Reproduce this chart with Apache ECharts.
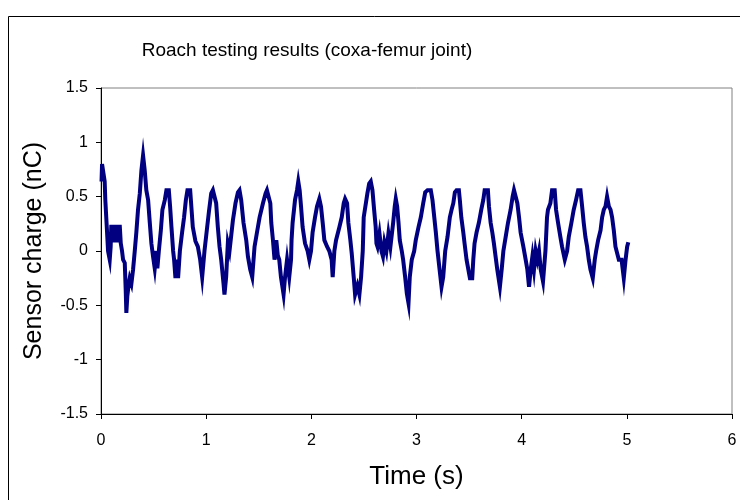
<!DOCTYPE html>
<html>
<head>
<meta charset="utf-8">
<script src="https://cdn.jsdelivr.net/npm/echarts@6/dist/echarts.min.js"></script>
<style>
html,body{margin:0;padding:0;background:#fff;}
#chart{width:740px;height:500px;}
</style>
</head>
<body>
<div id="chart"></div>
<script>
// Time (s) / sensor charge (nC) samples, per stretch of the trace
const segA = [[0.005,0.64],[0.010,0.80],[0.029,0.80],[0.035,0.64],[0.041,0.47],[0.050,0.31],[0.060,0.13],[0.067,0.0],[0.083,-0.08],[0.092,0.04],[0.098,0.24],[0.105,0.16],[0.114,0.24],[0.120,0.08],[0.130,0.24],[0.138,0.10],[0.146,0.24],[0.154,0.08],[0.162,0.24],[0.170,0.16],[0.178,0.24],[0.188,0.07],[0.200,0.0],[0.210,-0.08],[0.226,-0.11],[0.235,-0.36],[0.241,-0.57],[0.250,-0.42],[0.264,-0.30],[0.273,-0.25],[0.289,-0.30],[0.305,-0.17],[0.321,0.0],[0.336,0.17],[0.352,0.38],[0.369,0.53],[0.384,0.74],[0.400,0.88],[0.416,0.74],[0.431,0.56],[0.448,0.47],[0.464,0.26],[0.479,0.07],[0.495,-0.05],[0.511,-0.16],[0.527,0.0],[0.536,-0.16],[0.550,0.0],[0.569,0.19],[0.584,0.38],[0.607,0.47],[0.622,0.56],[0.645,0.56],[0.657,0.41],[0.670,0.22],[0.686,0.0],[0.695,-0.08],[0.708,-0.25],[0.724,-0.08],[0.733,-0.25],[0.750,0.0],[0.771,0.17],[0.790,0.31],[0.807,0.47],[0.822,0.56]];
const segB = [[0.848,0.56],[0.873,0.22],[0.898,0.09],[0.921,0.04],[0.943,-0.08],[0.962,-0.24],[0.984,0.0],[1.006,0.19],[1.026,0.36],[1.048,0.53],[1.064,0.56],[1.079,0.56],[1.095,0.44],[1.111,0.22],[1.127,0.04],[1.143,-0.08],[1.165,-0.30],[1.174,-0.40],[1.190,-0.24],[1.206,0.07],[1.222,0.0],[1.254,0.28],[1.279,0.44],[1.302,0.54],[1.317,0.56],[1.333,0.47],[1.355,0.26],[1.381,0.10],[1.397,-0.05],[1.419,-0.17],[1.438,-0.24],[1.460,0.04],[1.483,0.17],[1.508,0.31],[1.540,0.44],[1.565,0.53],[1.578,0.56],[1.597,0.56],[1.610,0.44],[1.619,0.26],[1.635,0.10],[1.650,-0.08]];
const segC = [[1.667,0.10],[1.681,-0.04],[1.695,-0.08],[1.711,-0.24],[1.736,-0.40],[1.750,-0.24],[1.769,-0.08],[1.790,-0.24],[1.807,-0.08],[1.812,0.10],[1.822,0.26],[1.845,0.47],[1.864,0.56],[1.876,0.64],[1.889,0.56],[1.902,0.41],[1.917,0.22],[1.940,0.07],[1.965,0.0],[1.981,-0.08],[1.997,0.0],[2.012,0.17],[2.035,0.31],[2.054,0.41],[2.076,0.48],[2.092,0.41],[2.108,0.26],[2.124,0.10],[2.150,0.04],[2.171,0.0],[2.193,-0.08],[2.203,-0.24],[2.219,0.0],[2.235,0.10],[2.267,0.22],[2.289,0.31],[2.308,0.44],[2.321,0.48],[2.340,0.44],[2.352,0.26],[2.371,0.10],[2.384,-0.02],[2.403,-0.24],[2.416,-0.40],[2.438,-0.32],[2.457,-0.40],[2.473,-0.24],[2.489,0.0]];
const segD = [[2.498,0.31],[2.511,0.31],[2.533,0.53],[2.550,0.62],[2.565,0.64],[2.581,0.56],[2.597,0.38],[2.612,0.22],[2.619,0.07],[2.629,0.04],[2.648,0.16],[2.667,0.0],[2.681,-0.05],[2.695,0.08],[2.714,0.0],[2.733,0.16],[2.752,0.04],[2.778,0.26],[2.793,0.41],[2.803,0.48],[2.816,0.41],[2.829,0.26],[2.841,0.10],[2.860,0.0],[2.873,-0.08],[2.892,-0.24],[2.908,-0.39],[2.924,-0.48],[2.936,-0.24],[2.955,-0.08],[2.978,0.0],[2.993,0.10],[3.019,0.22],[3.041,0.31],[3.064,0.44],[3.083,0.54],[3.105,0.56],[3.136,0.56],[3.152,0.47],[3.169,0.31],[3.184,0.17],[3.200,0.0],[3.216,-0.14],[3.238,-0.33],[3.254,-0.24],[3.273,0.0],[3.295,0.13],[3.317,0.31],[3.336,0.39]];
const segE = [[3.350,0.44],[3.365,0.54],[3.381,0.56],[3.403,0.56],[3.412,0.47],[3.426,0.31],[3.445,0.17],[3.457,0.07],[3.476,-0.08],[3.489,-0.08],[3.508,-0.25],[3.530,-0.25],[3.540,-0.08],[3.552,0.07],[3.571,0.17],[3.593,0.26],[3.616,0.38],[3.635,0.47],[3.648,0.56],[3.679,0.56],[3.689,0.41],[3.705,0.26],[3.721,0.17],[3.736,0.07],[3.752,-0.05],[3.768,-0.17],[3.793,-0.33],[3.810,-0.17],[3.826,0.0],[3.848,0.13],[3.870,0.26],[3.895,0.38],[3.914,0.50],[3.927,0.56],[3.946,0.56],[3.959,0.44],[3.975,0.31],[3.990,0.17],[4.016,0.04],[4.038,-0.08],[4.054,-0.17],[4.070,-0.33],[4.086,-0.17],[4.102,-0.05],[4.117,-0.17],[4.133,0.0],[4.149,-0.08],[4.165,0.0],[4.181,-0.17],[4.203,-0.28],[4.226,0.0]];
const segF = [[4.241,0.31],[4.250,0.38],[4.273,0.44],[4.289,0.56],[4.314,0.56],[4.327,0.38],[4.346,0.26],[4.368,0.13],[4.384,0.04],[4.410,-0.08],[4.432,0.0],[4.448,0.13],[4.473,0.26],[4.495,0.38],[4.517,0.47],[4.537,0.56],[4.559,0.56],[4.575,0.41],[4.590,0.26],[4.606,0.13],[4.622,0.04],[4.638,-0.08],[4.654,-0.17],[4.676,-0.25],[4.695,-0.08],[4.708,0.0],[4.727,0.10],[4.750,0.19],[4.765,0.31],[4.781,0.38],[4.797,0.41],[4.812,0.50],[4.829,0.41],[4.845,0.38],[4.860,0.31],[4.876,0.19],[4.892,0.04],[4.924,-0.08],[4.950,-0.08],[4.971,-0.25],[4.988,-0.08],[5.003,0.04],[5.014,0.08]];

const xTicks = [0, 1, 2, 3, 4, 5, 6];
const yTicks = [-1.5, -1, -0.5, 0, 0.5, 1, 1.5];
const titleText = 'Roach testing results (coxa-femur joint)';
const xName = 'Time (s)';
const yName = 'Sensor charge (nC)';

const trace = segA.concat(segB, segC, segD, segE, segF);
const FONT = "'Liberation Sans', Arial, sans-serif";

const chart = echarts.init(document.getElementById('chart'), null, {renderer: 'canvas'});
chart.setOption({
  animation: false,
  backgroundColor: '#ffffff',
  title: {
    text: titleText,
    left: 302, top: 36, textAlign: 'center',
    textStyle: {fontFamily: FONT, fontSize: 19, fontWeight: 'normal', color: '#000'}
  },
  graphic: [{
    type: 'rect', silent: true,
    shape: {x: 8.5, y: 16.5, width: 800, height: 600},
    style: {fill: 'none', stroke: '#000', lineWidth: 1}
  }],
  grid: {
    left: 101, top: 88, width: 631, height: 326,
    show: true, borderColor: '#808080', borderWidth: 1, backgroundColor: 'transparent'
  },
  xAxis: {
    type: 'value', min: xTicks[0], max: xTicks[xTicks.length - 1], interval: 1,
    name: xName, nameLocation: 'middle', nameGap: 50,
    nameTextStyle: {fontFamily: FONT, fontSize: 26, color: '#000'},
    axisLine: {show: true, onZero: false, lineStyle: {color: '#000', width: 1}},
    axisTick: {show: true, inside: false, length: 5, lineStyle: {color: '#000'}},
    axisLabel: {fontFamily: FONT, fontSize: 16, color: '#000', margin: 19},
    splitLine: {show: false}
  },
  yAxis: {
    type: 'value', min: yTicks[0], max: yTicks[yTicks.length - 1], interval: 0.5,
    name: yName, nameLocation: 'middle', nameGap: 54, nameRotate: 90,
    nameTextStyle: {fontFamily: FONT, fontSize: 25, color: '#000'},
    axisLine: {show: true, onZero: false, lineStyle: {color: '#000', width: 1}},
    axisTick: {show: true, inside: false, length: 5, lineStyle: {color: '#000'}},
    axisLabel: {fontFamily: FONT, fontSize: 16, color: '#000', margin: 13},
    splitLine: {show: false}
  },
  series: [{
    type: 'line',
    data: trace,
    showSymbol: false,
    symbol: 'none',
    smooth: false,
    lineStyle: {color: '#000080', width: 4, join: 'miter'},
    z: 3
  }]
});
</script>
</body>
</html>
